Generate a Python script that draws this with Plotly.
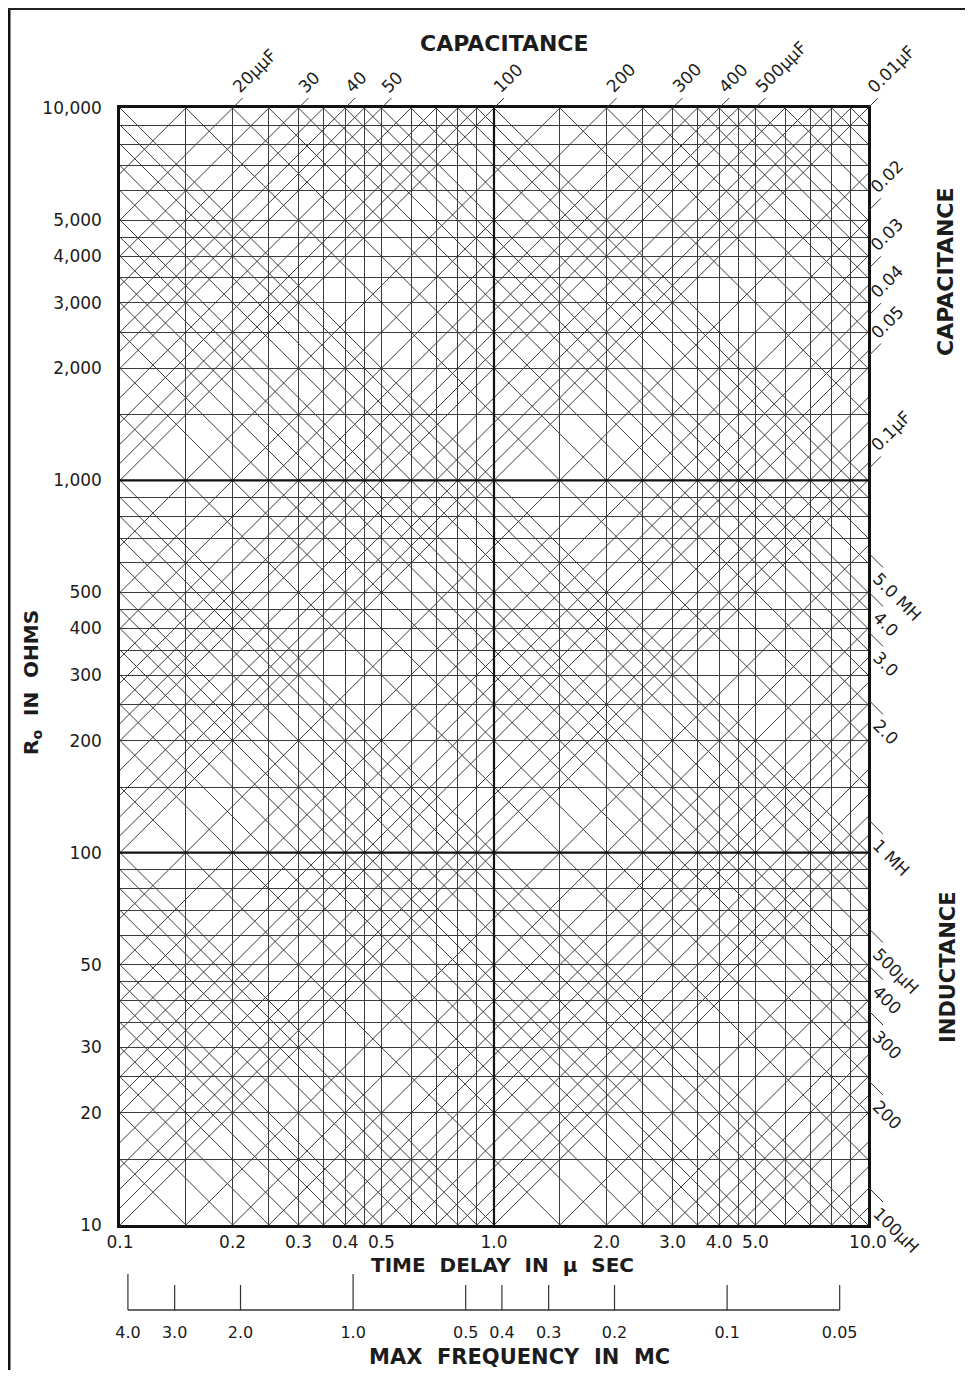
import math
import plotly.graph_objects as go

# ---------------- data ----------------
grid_mantissas = [1, 1.5, 2, 2.5, 3, 3.5, 4, 4.5, 5, 6, 7, 8, 9]
time_decades = [0.1, 1.0]            # time delay, micro-seconds
ohm_decades = [10, 100, 1000]        # Ro, ohms
cap_decades_pf = [10, 100, 1000, 10000, 100000]   # capacitance lines, pF
ind_decades_uh = [1, 10, 100, 1000, 10000]        # inductance lines, uH

time_tick_vals = [0.1, 0.2, 0.3, 0.4, 0.5, 1.0, 2.0, 3.0, 4.0, 5.0, 10.0]
time_tick_text = ["0.1", "0.2", "0.3", "0.4", "0.5", "1.0", "2.0", "3.0", "4.0", "5.0", "10.0"]
ohm_tick_vals = [10, 20, 30, 50, 100, 200, 300, 400, 500, 1000, 2000, 3000, 4000, 5000, 10000]
ohm_tick_text = ["10", "20", "30", "50", "100", "200", "300", "400", "500",
                 "1,000", "2,000", "3,000", "4,000", "5,000", "10,000"]

# capacitance labels along the top edge (at time delay value, Ro = 10,000)
top_cap_T = [0.2, 0.3, 0.4, 0.5, 1.0, 2.0, 3.0, 4.0, 5.0, 10.0]
top_cap_text = ["20\u00b5\u00b5F", "30", "40", "50", "100", "200", "300", "400",
                "500\u00b5\u00b5F", "0.01\u00b5F"]
# capacitance labels along the right edge (Ro where the leader sits)
right_cap_R = [5280, 3690, 2760, 2150, 1070]
right_cap_text = ["0.02", "0.03", "0.04", "0.05", "0.1\u00b5F"]
# inductance labels along the right edge
right_ind_R = [640, 503, 393, 258, 123, 62.9, 50, 37.8, 24.5, 12.65]
right_ind_text = ["5.0 MH", "4.0", "3.0", "2.0", "1 MH", "500\u00b5H", "400", "300", "200", "100\u00b5H"]

# max frequency scale (f = k / T)
freq_k = 0.42
freq_vals = [4.0, 3.0, 2.0, 1.0, 0.5, 0.4, 0.3, 0.2, 0.1, 0.05]
freq_text = ["4.0", "3.0", "2.0", "1.0", "0.5", "0.4", "0.3", "0.2", "0.1", "0.05"]
freq_major = [True, False, False, True, False, False, False, False, False, False]

# ---------------- layout geometry ----------------
OFF = 8                      # browser body margin
W, H = 973 - 2 * OFF, 1378 - 2 * OFF
ML, MT = 120 - OFF, 108 - OFF
PLOT_R, PLOT_B = 868 - OFF, 1318 - OFF
MR, MB = W - PLOT_R, H - PLOT_B
PW, PH = W - ML - MR, H - MT - MB

def px(xp):                  # reference pixel -> paper x
    return (xp - OFF - ML) / PW
def py(yp):                  # reference pixel -> paper y
    return (MT + PH - (yp - OFF)) / PH

FONT = "DejaVu Sans"
INK = "#1c1c1c"
LINE = "#3c3c3c"

time_grid = [m * d for d in time_decades for m in grid_mantissas] + [10.0]
ohm_grid = [m * d for d in ohm_decades for m in grid_mantissas] + [10000]

def label_for(v, vals, texts):
    for tv, tt in zip(vals, texts):
        if abs(v - tv) / tv < 1e-6:
            return tt
    return ""

x_text = [label_for(v, time_tick_vals, time_tick_text) for v in time_grid]
y_text = [label_for(v, ohm_tick_vals, ohm_tick_text) for v in ohm_grid]

cap_vals = [m * d for d in cap_decades_pf for m in grid_mantissas] + [1e6]
ind_vals = [m * d for d in ind_decades_uh for m in grid_mantissas] + [1e5]

fig = go.Figure()

# constant-capacitance lines: R = T[us]*1e6 / C[pF]
cx, cy = [], []
for c in cap_vals:
    for t in (0.05, 20.0):
        cx.append(t)
        cy.append(t * 1e6 / c)
    cx.append(None)
    cy.append(None)
fig.add_trace(go.Scatter(x=cx, y=cy, mode="lines", line=dict(color=LINE, width=1),
                         hoverinfo="skip", showlegend=False))

# constant-inductance lines: R = L[uH] / T[us]
lx, ly = [], []
for l in ind_vals:
    for t in (0.05, 20.0):
        lx.append(t)
        ly.append(l / t)
    lx.append(None)
    ly.append(None)
fig.add_trace(go.Scatter(x=lx, y=ly, mode="lines", line=dict(color=LINE, width=1),
                         hoverinfo="skip", showlegend=False))

# heavier decade lines
fig.add_trace(go.Scatter(x=[1.0, 1.0, None, 0.1, 10, None, 0.1, 10],
                         y=[10, 10000, None, 100, 100, None, 1000, 1000],
                         mode="lines", line=dict(color="#111", width=2.2),
                         hoverinfo="skip", showlegend=False))

# frequency scale (second subplot)
fx, fy = [freq_k / freq_vals[0], freq_k / freq_vals[-1]], [0, 0]
fig.add_trace(go.Scatter(x=fx, y=fy, mode="lines", line=dict(color="#333", width=1.4),
                         xaxis="x2", yaxis="y2", hoverinfo="skip", showlegend=False))
tx, ty = [], []
for f, major in zip(freq_vals, freq_major):
    t = freq_k / f
    tx += [t, t, None]
    ty += [0, 36 if major else 25, None]
fig.add_trace(go.Scatter(x=tx, y=ty, mode="lines", line=dict(color="#333", width=1.2),
                         xaxis="x2", yaxis="y2", hoverinfo="skip", showlegend=False))

y_dom0 = py(1225)
fig.update_layout(
    width=W, height=H,
    margin=dict(l=ML, r=MR, t=MT, b=MB),
    paper_bgcolor="#ffffff", plot_bgcolor="#ffffff",
    font=dict(family=FONT, color=INK),
    xaxis=dict(type="log", range=[-1, 1], domain=[0, 1], anchor="y",
               tickmode="array", tickvals=time_grid, ticktext=x_text,
               showgrid=True, gridcolor=LINE, gridwidth=1, ticks="",
               showline=True, mirror=True, linecolor="#111", linewidth=2.5,
               zeroline=False, tickfont=dict(size=17, family=FONT, color=INK),
               ticklabelstandoff=0),
    yaxis=dict(type="log", range=[1, 4], domain=[y_dom0, 1], anchor="x",
               tickmode="array", tickvals=ohm_grid, ticktext=y_text,
               showgrid=True, gridcolor=LINE, gridwidth=1, ticks="",
               showline=True, mirror=True, linecolor="#111", linewidth=2.5,
               zeroline=False, tickfont=dict(size=17, family=FONT, color=INK),
               ticklabelstandoff=12),
    xaxis2=dict(type="log", range=[-1, 1], domain=[0, 1], anchor="y2",
                tickmode="array", tickvals=[freq_k / f for f in freq_vals], ticktext=freq_text,
                showgrid=False, ticks="", showline=False, zeroline=False,
                tickfont=dict(size=16, family=FONT, color=INK), ticklabelstandoff=8),
    yaxis2=dict(range=[-3, 37], domain=[py(1313), py(1273)],
                anchor="x2", visible=False),
)

ann = []
def title(text, xp, yp, size=21, angle=0):
    ann.append(dict(text="<b>" + text + "</b>", x=px(xp), y=py(yp), xref="paper", yref="paper",
                    showarrow=False, textangle=angle, font=dict(size=size, family=FONT, color=INK),
                    xanchor="center", yanchor="middle"))

title("CAPACITANCE", 505, 43, 22)
title("TIME\u00a0 DELAY\u00a0 IN\u00a0 \u00b5\u00a0 SEC", 502, 1265, 20)
title("MAX\u00a0 FREQUENCY\u00a0 IN\u00a0 MC", 519, 1357, 21)
title("R<sub>o</sub>\u00a0 IN\u00a0 OHMS", 32, 683, 20, -90)
title("CAPACITANCE", 945, 272, 22, -90)
title("INDUCTANCE", 948, 967, 21, -90)

def leader_label(text, xv, yv, up=True, size=17, lead=10):
    ann.append(dict(text=text, x=math.log10(xv), y=math.log10(yv), xref="x", yref="y",
                    showarrow=True, arrowhead=0, arrowwidth=1, arrowcolor="#333",
                    ax=lead, ay=-lead if up else lead, standoff=0, startstandoff=0,
                    xanchor="left", yanchor="bottom" if up else "top",
                    textangle=-45 if up else 45, borderpad=0,
                    font=dict(size=size, family=FONT, color=INK)))

for t, s in zip(top_cap_T, top_cap_text):
    leader_label(s, t, 10000, up=True)
for r, s in zip(right_cap_R, right_cap_text):
    leader_label(s, 10.0, r, up=True, size=17, lead=13)
for r, s in zip(right_ind_R, right_ind_text):
    leader_label(s, 10.0, r, up=False, size=17, lead=15)

fig.update_layout(annotations=ann)

# scanned page edges
fig.add_shape(type="line", xref="paper", yref="paper", x0=px(9), x1=px(9), y0=py(OFF), y1=py(H + OFF),
              line=dict(color="#111", width=3))
fig.add_shape(type="line", xref="paper", yref="paper", x0=px(OFF), x1=px(W + OFF), y0=py(9), y1=py(9),
              line=dict(color="#222", width=2))

fig.write_html("out.html")
